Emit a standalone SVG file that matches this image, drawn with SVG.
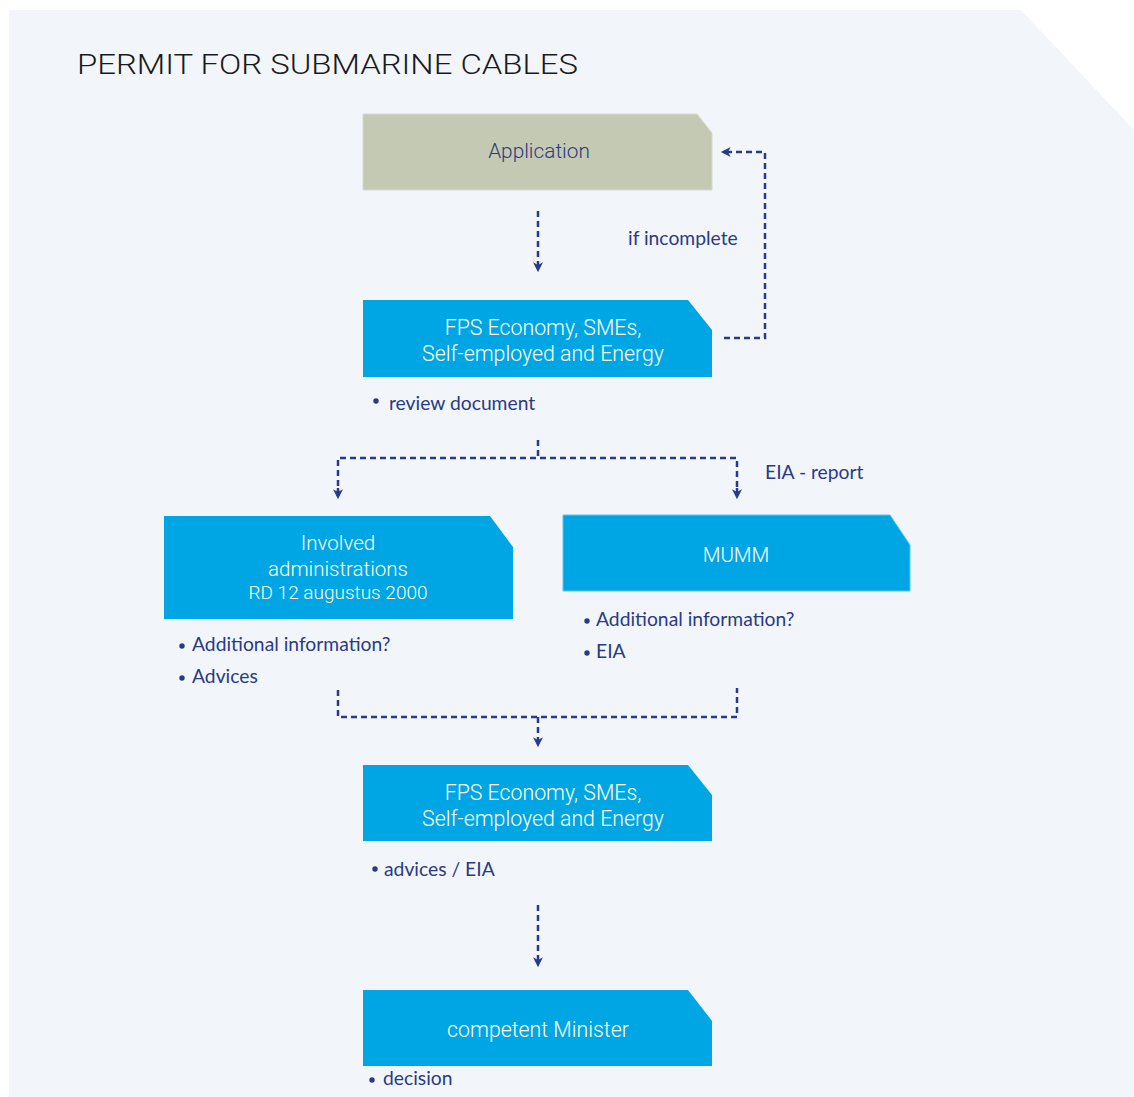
<svg xmlns="http://www.w3.org/2000/svg" width="1134" height="1097" viewBox="0 0 1134 1097">
<style>
.node{fill:#00a6e3}
.app{fill:#c4c9b4;stroke:#d6dacb;stroke-width:1}
.bt{font-family:Roboto,"Liberation Sans",Arial,sans-serif;font-weight:300;font-size:21.3px;fill:#ffffff;text-anchor:middle}
.at{font-family:Roboto,"Liberation Sans",Arial,sans-serif;font-weight:300;font-size:20.8px;fill:#2e3a7c;text-anchor:middle}
.lb{font-family:Lato,"Open Sans",sans-serif;font-size:19.3px;fill:#2a3a86}
.dot{fill:#2a3a86}
.cn{fill:none;stroke:#2a3a8a;stroke-width:2.5;stroke-dasharray:6 4}
.title{font-family:Roboto,"Liberation Sans",Arial,sans-serif;font-weight:300;font-size:28px;fill:#1a1a1a}
</style>
<defs>
<marker id="ah" viewBox="0 0 10 10" refX="7" refY="5" markerWidth="11" markerHeight="11" markerUnits="userSpaceOnUse" orient="auto">
<path d="M0,0.5 L9,5 L0,9.5 L2.5,5 Z" fill="#2a3a8a"/>
</marker>
</defs>
<path d="M9,10 H1021 L1134,130 V1097 H9 Z" fill="#f2f6fb"/>
<text class="title" x="77" y="74" textLength="501" lengthAdjust="spacingAndGlyphs">PERMIT FOR SUBMARINE CABLES</text>

<g id="connectors">
<path class="cn" d="M538,211 V270" marker-end="url(#ah)"/>
<path class="cn" d="M724,338 H765 V152 H723" marker-end="url(#ah)"/>
<path class="cn" d="M538,440 V458"/>
<path class="cn" d="M338,496 V458 H737 V496" />
<path d="M338,488 V497" class="cn" marker-end="url(#ah)"/>
<path d="M737,488 V497" class="cn" marker-end="url(#ah)"/>
<path class="cn" d="M338,690 V717 H737 V688"/>
<path class="cn" d="M538,717 V745" marker-end="url(#ah)"/>
<path class="cn" d="M538,905 V965" marker-end="url(#ah)"/>
</g>

<g id="application">
<path class="app" d="M363,114 H697 L712,133 V190 H363 Z"/>
<text class="at" x="539" y="158">Application</text>
</g>

<g id="fps1">
<path class="node" d="M363,300 H688 L712,330 V377 H363 Z"/>
<text class="bt" x="543" y="335">FPS Economy, SMEs,</text>
<text class="bt" x="543" y="361">Self-employed and Energy</text>
</g>
<g id="if-incomplete"><text class="lb" x="628" y="245">if incomplete</text></g>
<g id="review">
<circle class="dot" cx="376" cy="401" r="2.7"/>
<text class="lb" x="389" y="410">review document</text>
</g>
<g id="eia-report"><text class="lb" x="765" y="479">EIA - report</text></g>

<g id="involved">
<path class="node" d="M164,516 H490 L513,547 V619 H164 Z"/>
<text class="bt" x="338" y="550" style="font-size:20.5px">Involved</text>
<text class="bt" x="338" y="576" style="font-size:20.5px">administrations</text>
<text class="bt" x="338" y="599" style="font-size:19px">RD 12 augustus 2000</text>
<circle class="dot" cx="182" cy="646" r="2.7"/>
<text class="lb" x="192" y="651">Additional information?</text>
<circle class="dot" cx="182" cy="678" r="2.7"/>
<text class="lb" x="192" y="683">Advices</text>
</g>

<g id="mumm">
<path class="node" d="M563,515 H890 L910,545 V591 H563 Z" stroke="#5cc4ee" stroke-width="1"/>
<text class="bt" x="736" y="562" style="font-size:20.5px">MUMM</text>
<circle class="dot" cx="587" cy="621" r="2.7"/>
<text class="lb" x="596" y="626">Additional information?</text>
<circle class="dot" cx="587" cy="653" r="2.7"/>
<text class="lb" x="596" y="658">EIA</text>
</g>

<g id="fps2">
<path class="node" d="M363,765 H688 L712,795 V841 H363 Z"/>
<text class="bt" x="543" y="800">FPS Economy, SMEs,</text>
<text class="bt" x="543" y="826">Self-employed and Energy</text>
<circle class="dot" cx="375" cy="869" r="2.7"/>
<text class="lb" x="384" y="876">advices / EIA</text>
</g>

<g id="minister">
<path class="node" d="M363,990 H688 L712,1021 V1066 H363 Z"/>
<text class="bt" x="538" y="1037">competent Minister</text>
<circle class="dot" cx="372" cy="1080" r="2.7"/>
<text class="lb" x="383" y="1085">decision</text>
</g>
</svg>
